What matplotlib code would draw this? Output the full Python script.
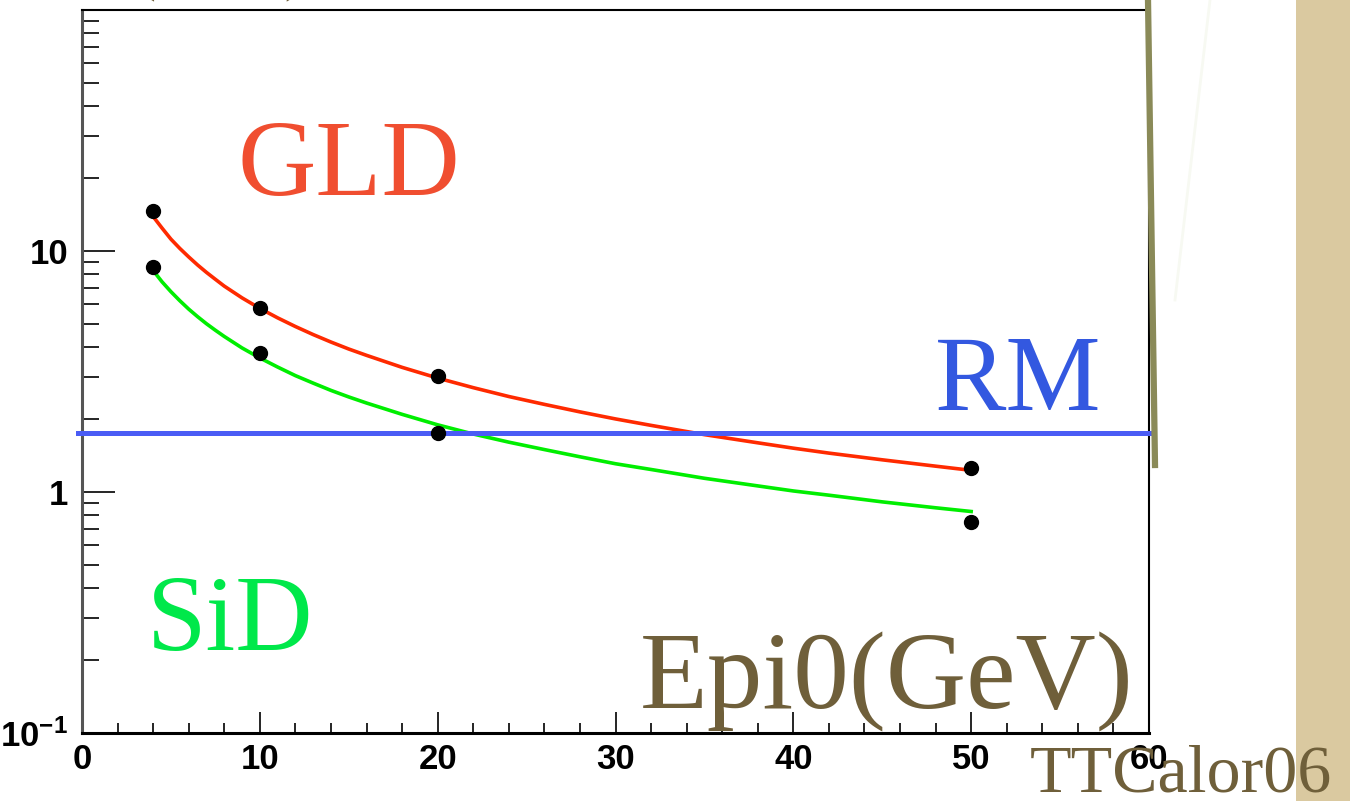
import numpy as np
import matplotlib
matplotlib.use("Agg")
from matplotlib import pyplot as plt
from matplotlib.ticker import FixedLocator, NullFormatter, FixedFormatter
from matplotlib.lines import Line2D
from matplotlib.patches import Rectangle

plt.rcParams["mathtext.fontset"] = "custom"
plt.rcParams["mathtext.rm"] = "Liberation Sans"
plt.rcParams["mathtext.bf"] = "Liberation Sans:bold"

# measured points (Epi0 in GeV)
energies = [4, 10, 20, 50]
gld_points = [14.6, 5.8, 3.03, 1.26]
sid_points = [8.6, 3.78, 1.76, 0.75]

# fitted curves
curve_e = [4, 4.5, 5, 5.5, 6, 6.5, 7, 7.5, 8, 9, 10, 11, 12, 13, 14, 15, 16, 18, 20,
           22, 24, 26, 28, 30, 32, 35, 38, 40, 42, 45, 48, 50]
gld_curve = [13.9, 12.45, 11.2, 10.25, 9.45, 8.75, 8.15, 7.63, 7.15, 6.39, 5.78, 5.28, 4.86,
             4.50, 4.19, 3.92, 3.69, 3.29, 2.97, 2.71, 2.49, 2.31, 2.15, 2.01, 1.89, 1.73,
             1.60, 1.52, 1.45, 1.36, 1.28, 1.23]
sid_curve = [8.3, 7.45, 6.78, 6.22, 5.74, 5.34, 4.99, 4.69, 4.42, 3.96, 3.6, 3.3, 3.04, 2.83,
             2.64, 2.48, 2.34, 2.10, 1.90, 1.74, 1.61, 1.50, 1.40, 1.31, 1.24, 1.14, 1.06,
             1.01, 0.97, 0.91, 0.86, 0.83]

rm_level = 1.76

x_ticks = [0, 10, 20, 30, 40, 50, 60]
y_ticks = [0.1, 1, 10]
y_tick_labels = [r"$\mathbf{10^{-1}}$", "1", "10"]

olive = "#6f5f3a"

fig = plt.figure(figsize=(13.5, 8.01), dpi=100)
fig.patch.set_facecolor("white")

# beige strip on the right edge
fig.patches.append(Rectangle((1296 / 1350, 0), 54 / 1350, 1, transform=fig.transFigure,
                             facecolor="#dac9a0", edgecolor="none", zorder=0))
# faint diagonal and olive vertical bar
fig.lines.append(Line2D([1210 / 1350, 1175 / 1350], [1, 1 - 300 / 801], transform=fig.transFigure,
                        color="#f7f9f2", lw=2, zorder=1))
fig.lines.append(Line2D([1148 / 1350, 1155 / 1350], [1, 1 - 465 / 801], transform=fig.transFigure,
                        color="#8a8a58", lw=4.5, zorder=5))

ax = fig.add_axes([82 / 1350, 1 - 733 / 801, 1067 / 1350, 723 / 801])
ax.set_xlim(0, 60)
ax.set_yscale("log")
ax.set_ylim(0.1, 100)

ax.plot(curve_e, gld_curve, color="#ff2a00", lw=2.6, zorder=3)
ax.plot(curve_e, sid_curve, color="#00ee00", lw=2.6, zorder=3)
ax.axhline(rm_level, xmin=-0.004, xmax=1.0, color="#4a5cf5", lw=3.6, zorder=4, clip_on=False)
ax.plot(energies, gld_points, "o", color="black", ms=10, zorder=5)
ax.plot(energies, sid_points, "o", color="black", ms=10, zorder=5)

# ticks, ROOT style
ax.xaxis.set_major_locator(FixedLocator(x_ticks))
ax.xaxis.set_minor_locator(FixedLocator(np.arange(0, 61, 2)))
ax.yaxis.set_major_locator(FixedLocator(y_ticks))
ax.yaxis.set_major_formatter(FixedFormatter(y_tick_labels))
minor_y = [m * 10.0 ** d for d in (-1, 0, 1) for m in range(2, 10)]
ax.yaxis.set_minor_locator(FixedLocator(minor_y))
ax.yaxis.set_minor_formatter(NullFormatter())
ax.tick_params(axis="x", which="major", direction="in", length=15, width=1.2, pad=7,
               top=False, labelsize=25)
ax.tick_params(axis="x", which="minor", direction="in", length=7, width=1.2, top=False)
ax.tick_params(axis="y", which="major", direction="in", length=24, width=1.2, pad=10,
               right=False, labelsize=25)
ax.tick_params(axis="y", which="minor", direction="in", length=12, width=1.2, right=False)
for lab in ax.get_xticklabels() + ax.get_yticklabels():
    lab.set_fontweight("bold")
    lab.set_family("Liberation Sans")

ax.spines["left"].set_color("#555555")
ax.spines["left"].set_linewidth(2.2)
ax.spines["bottom"].set_linewidth(2.2)
ax.spines["top"].set_linewidth(1.5)
ax.spines["right"].set_linewidth(1.5)

serif = "Liberation Serif"
fig.text(238 / 1350, 1 - 195 / 801, "GLD", color="#f04e30", fontsize=78, family=serif, va="baseline")
fig.text(935 / 1350, 1 - 410 / 801, "RM", color="#3358e0", fontsize=77, family=serif, va="baseline")
fig.text(147 / 1350, 1 - 650 / 801, "SiD", color="#00e84a", fontsize=77, family=serif, va="baseline")
fig.text(640 / 1350, 1 - 709 / 801, "Epi0(GeV)", color=olive, fontsize=80, family=serif,
         va="baseline", zorder=6)
fig.text(1030 / 1350, 1 - 792 / 801, "TTCalor06", color=olive, fontsize=49, family=serif,
         va="baseline", zorder=6)
# cut-off axis title at the very top
fig.text(128 / 1350, 1 + 16 / 801, "(", color=olive, fontsize=60, family=serif, va="baseline")
fig.text(283 / 1350, 1 + 16 / 801, ")", color=olive, fontsize=60, family=serif, va="baseline")

fig.savefig("out.png", dpi=100)
